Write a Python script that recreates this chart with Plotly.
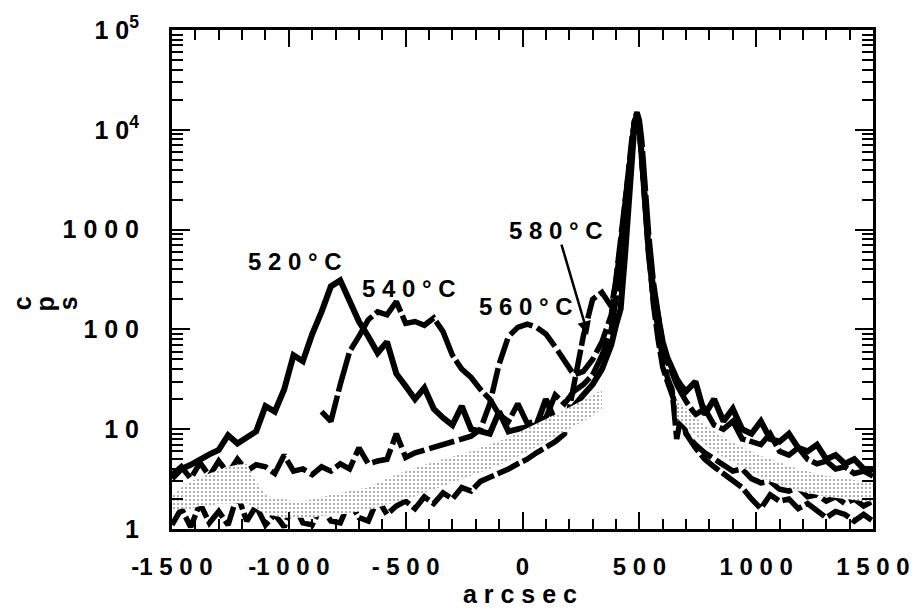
import plotly.graph_objects as go

# ---------------- data ----------------
X = [-1500, -1460, -1420, -1380, -1340, -1300, -1260, -1220, -1180, -1140,
     -1100, -1060, -1020, -980, -940, -900, -860, -820, -780, -740,
     -700, -660, -620, -580, -540, -500, -460, -420, -380, -340,
     -300, -260, -220, -180, -140, -100, -60, -20, 20, 60,
     100, 140, 180, 220, 260, 300, 340, 380,
     400, 420, 440, 455, 470, 480, 490, 500, 510, 525, 540, 560, 580, 600, 620, 640, 660, 680,
     700, 740, 780, 820, 860, 900, 940, 980, 1020, 1060, 1100, 1140, 1180, 1220, 1260, 1300,
     1340, 1380, 1420, 1460, 1500]

s520 = [3.2, 4.0, 4.4, 5.0, 5.6, 6.2, 8.7, 7.2, 8.2, 9.5,
        17, 15, 25, 55, 48, 90, 150, 270, 310, 190,
        120, 85, 58, 75, 36, 27, 20, 26, 16, 13,
        11, 17, 10, 9.5, 9, 15, 9.5, 10, 10.5, 11,
        20, 12, 14, 17, 22, 28, 40, 70,
        110, 160, 600, 2000, 6000, 12000, 14000, 11000, 5500, 1700, 600, 250, 130, 75, 52, 40, 32, 27,
        24, 30, 14, 20, 12, 16, 10, 9, 12, 8, 7.5, 9, 6.5, 6, 7, 5, 5.5, 4.5, 5, 4, 4]

s540 = [None] * 16 + [
        15, 12, 28, 60,
        85, 125, 150, 140, 190, 115, 120, 110, 130, 95,
        55, 40, 33, 25, 20, 14, 12, 18, 11.5, 12,
        13, 22, 18, 24, 28, 35, 55, 100,
        200, 450, 1100, 2800, 7500, 13000, 15000, 12500, 8000, 2500, 900, 300, 130, 70, 48, 36, 28, 23,
        19, 14, 16, 11, 10, 12, 8, 7.5, 7, 9, 6, 5.5, 6.5, 5, 4.5, 4.8, 4, 4.2, 3.6, 3.8, 3.4]

s560 = [3.5, 4.2, 3.2, 4.6, 3.4, 4.8, 3.6, 5.0, 3.8, 4.4,
        4.2, 3.6, 5.5, 3.8, 4.0, 3.5, 4.2, 3.8, 4.5, 4.0,
        6.5, 4.5, 4.8, 5.0, 9.0, 5.2, 5.8, 6.2, 6.5, 7.0,
        7.5, 8.0, 8.5, 10, 18, 45, 85, 105, 113, 105,
        90, 67, 48, 35, 38, 50, 75, 140,
        320, 800, 2200, 5000, 9500, 12500, 13500, 10000, 5500, 1700, 550, 200, 90, 50, 33, 25, 8, 14,
        9, 7, 5.8, 5.0, 4.4, 3.8, 4.0, 3.2, 2.9, 3.0, 2.5, 2.4, 2.6, 2.1, 2.2, 1.9, 2.1, 1.8, 2.0, 1.7, 1.9]

s580 = [1.1, 1.6, 1.05, 1.8, 1.15, 1.5, 1.1, 2.2, 1.2, 1.7,
        1.1, 1.4, 1.05, 1.8, 1.15, 1.1, 1.7, 1.2, 1.15, 1.9,
        1.3, 1.2, 2.0, 1.4, 1.7, 1.9, 1.6, 2.1, 1.8, 2.3,
        2.0, 2.6, 2.4, 3.0, 3.3, 3.6, 4.0, 4.5, 5.0, 5.8,
        6.5, 7.5, 9.0, 30, 85, 200, 235, 170,
        300, 700, 2000, 5000, 9000, 12000, 13500, 10000, 5000, 1500, 500, 180, 80, 42, 30, 22, 16, 12,
        9, 6.5, 5, 4.2, 3.6, 3.0, 2.6, 2.0, 1.6, 2.2, 1.9, 2.0, 1.6, 1.8, 1.5, 1.3, 1.5, 1.4, 1.2, 1.4, 1.2]

# stippled scan: lower / upper envelope of its noise band, left tail (x <= 340) and right tail (x >= 660)
grey_lo_left = [1.5, 1.6, 1.6, 1.7, 1.7, 1.8, 1.8, 1.8, 1.8, 1.6,
                1.4, 1.35, 1.3, 1.3, 1.3, 1.3, 1.35, 1.4, 1.4, 1.45,
                1.5, 1.55, 1.65, 1.75, 1.9, 2.0, 2.1, 2.3, 2.5, 2.7,
                2.9, 3.1, 3.4, 3.7, 4.0, 4.4, 4.8, 5.3, 5.9, 6.6,
                7.4, 8.3, 9.4, 10.6, 12, 13.5, 16]
grey_hi_left = [2.2, 2.6, 3.0, 3.3, 3.6, 3.9, 4.2, 4.4, 4.5, 3.0,
                2.2, 2.0, 2.0, 1.9, 1.9, 2.0, 2.1, 2.2, 2.3, 2.4,
                2.5, 2.6, 2.9, 3.2, 3.5, 3.8, 4.1, 4.4, 4.7, 5.0,
                5.3, 5.6, 6.0, 6.5, 7.0, 7.6, 8.3, 9.2, 10.2, 11.3,
                12.5, 14, 15.7, 17.5, 19.5, 22, 25]
grey_lo_right = [13, 11.5, 10.5, 8.5, 7, 6, 5.2, 4.6, 4.1, 3.7, 3.3, 3.0, 2.8, 2.6, 2.4,
                 2.3, 2.2, 2.1, 2.05, 2.0, 1.95, 1.9, 1.9]
grey_hi_right = [20, 18, 16, 13, 11, 9.5, 8.3, 7.4, 6.6, 6.0, 5.4, 5.0, 4.6, 4.3, 4.0,
                 3.8, 3.6, 3.4, 3.3, 3.2, 3.1, 3.0, 3.0]

x_ticks = [-1500, -1000, -500, 0, 500, 1000, 1500]
x_ticktext = ["-1 5 0 0", "-1 0 0 0", "- 5 0 0", "0", "5 0 0", "1 0 0 0", "1 5 0 0"]
y_ticks = [1, 10, 100, 1000, 10000, 100000]
y_ticktext = ["1", "1 0", "1 0 0", "1 0 0 0", "1 0<sup>4</sup>", "1 0<sup>5</sup>"]
labels = ["5 2 0 ° C", "5 4 0 ° C", "5 6 0 ° C", "5 8 0 ° C"]

# ---------------- figure ----------------
FONT = "Liberation Sans, Arial, Helvetica, sans-serif"
fig = go.Figure()

fig.add_trace(go.Scatter(x=X, y=s580, mode="lines", line=dict(color="black", width=5.5, dash="24px,4px")))
fig.add_trace(go.Scatter(x=X, y=s560, mode="lines", line=dict(color="black", width=5.5, dash="26px,5px")))
fig.add_trace(go.Scatter(x=X, y=s540, mode="lines", line=dict(color="black", width=5.5, dash="40px,4px")))
fig.add_trace(go.Scatter(x=X, y=s520, mode="lines", line=dict(color="black", width=6)))

xl = X[:len(grey_lo_left)]
xr = X[len(X) - len(grey_lo_right):]
gx = xl + xl[::-1] + [None] + xr + xr[::-1]
gy = grey_hi_left + grey_lo_left[::-1] + [None] + grey_hi_right + grey_lo_right[::-1]
fig.add_trace(go.Scatter(x=gx, y=gy, mode="lines", fill="toself", line=dict(width=0, color="rgba(0,0,0,0)"),
                         fillcolor="white",
                         fillpattern=dict(shape=".", bgcolor="white", fgcolor="#333333", size=4, solidity=0.22)))

minor_y = [m * 10 ** k for k in range(5) for m in range(2, 10)]

fig.update_layout(
    width=922, height=610,
    margin=dict(l=172, r=39, t=22, b=81),
    paper_bgcolor="white", plot_bgcolor="white",
    showlegend=False,
    font=dict(family=FONT, size=25, color="black", weight="bold"),
    xaxis=dict(range=[-1500, 1500], tickmode="array", tickvals=x_ticks, ticktext=x_ticktext,
               ticks="inside", ticklen=17, tickwidth=2, tickcolor="black",
               showline=True, linewidth=3, linecolor="black", mirror="ticks",
               showgrid=False, zeroline=False, ticklabelstandoff=14,
               tickfont=dict(family=FONT, size=24, weight="bold"),
               minor=dict(dtick=100, tick0=0, ticks="inside", ticklen=10, tickwidth=2, tickcolor="black", showgrid=False)),
    yaxis=dict(type="log", range=[0, 5], tickmode="array", tickvals=y_ticks, ticktext=y_ticktext,
               ticks="inside", ticklen=18, tickwidth=2, tickcolor="black",
               showline=True, linewidth=3, linecolor="black", mirror="ticks",
               showgrid=False, zeroline=False, ticklabelstandoff=25,
               tickfont=dict(family=FONT, size=25, weight="bold"),
               minor=dict(tickmode="array", tickvals=minor_y, ticks="inside", ticklen=11, tickwidth=2,
                          tickcolor="black", showgrid=False)),
)

ann_font = dict(family=FONT, size=24, color="black", weight="bold")
pos = [(0.1758, 0.5365), (0.3376, 0.4813), (0.5049, 0.4458), (0.5485, 0.5976)]
for t, (px, py) in zip(labels, pos):
    fig.add_annotation(xref="paper", yref="paper", x=px, y=py, text=t, showarrow=False, font=ann_font,
                       xanchor="center", yanchor="middle")

# arrow from 580 °C label to its curve
fig.add_annotation(xref="paper", yref="paper", x=0.5935, y=0.3886, ax=-27, ay=-92, text="",
                   showarrow=True, arrowhead=2, arrowsize=1.1, arrowwidth=2.5, arrowcolor="black")

# axis titles
fig.add_annotation(xref="paper", yref="paper", x=0.4965, y=-0.1302, text="a r c s e c",
                   showarrow=False, xanchor="center", yanchor="middle",
                   font=dict(family=FONT, size=25, color="black", weight="bold"))
for ch, px in zip(["c", "p", "s"], [-0.2145, -0.1814, -0.149]):
    fig.add_annotation(xref="paper", yref="paper", x=px, y=0.4517, text=ch, textangle=-90,
                       xanchor="center", yanchor="middle",
                       showarrow=False, font=dict(family=FONT, size=25, color="black", weight="bold"))

fig.write_html("out.html")
